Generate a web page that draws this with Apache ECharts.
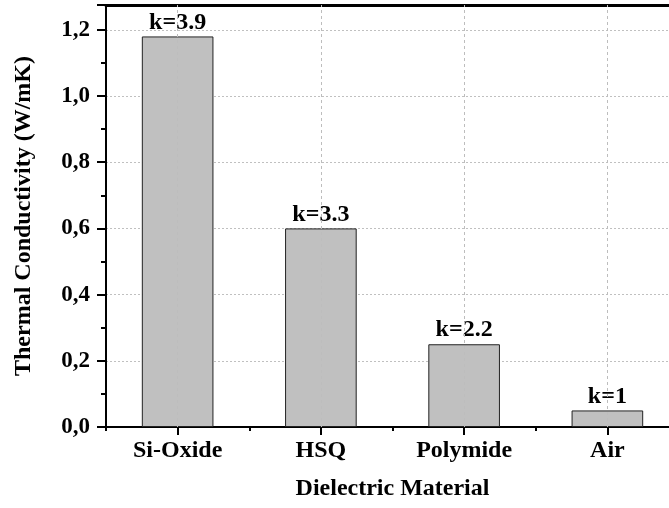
<!DOCTYPE html>
<html>
<head>
<meta charset="utf-8">
<script src="https://cdn.jsdelivr.net/npm/echarts@6/dist/echarts.min.js"></script>
<style>
  html, body { margin: 0; padding: 0; background: #fff; }
  #chart { width: 669px; height: 508px; }
</style>
</head>
<body>
<div id="chart"></div>
<script>
// Dielectric materials and their thermal conductivity (W/mK)
const materials = ['Si-Oxide', 'HSQ', 'Polymide', 'Air'];
const conductivity = [1.18, 0.6, 0.25, 0.05];
// Dielectric constant of each material, printed above its bar
const kValues = ['3.9', '3.3', '2.2', '1'];

const FONT = 'Liberation Serif, Times New Roman, serif';
const textStyle = { fontFamily: FONT, fontWeight: 'bold', fontSize: 24, color: '#000' };

const chart = echarts.init(document.getElementById('chart'), null, { renderer: 'canvas' });

chart.setOption({
  animation: false,
  backgroundColor: '#fff',
  grid: {
    left: 106, top: 5, right: -10, bottom: 81,
    show: false,
    outerBoundsMode: 'none'
  },
  xAxis: [
    {
      type: 'category',
      data: materials,
      position: 'bottom',
      name: 'Dielectric Material',
      nameLocation: 'middle',
      nameGap: 50,
      nameTextStyle: textStyle,
      axisLine: { show: true, lineStyle: { color: '#000', width: 2 } },
      axisTick: { show: true, alignWithLabel: true, length: 8, lineStyle: { color: '#000', width: 2 } },
      axisLabel: Object.assign({ margin: 12 }, textStyle),
      splitLine: { show: false }
    },
    {
      // short ticks on the category boundaries
      type: 'category',
      data: materials,
      position: 'bottom',
      axisLine: { show: false },
      axisTick: { show: true, length: 4, lineStyle: { color: '#000', width: 2 } },
      axisLabel: { show: false },
      splitLine: { show: false }
    },
    {
      // frame line along the top of the plot
      type: 'category',
      data: materials,
      position: 'top',
      axisLine: { show: true, lineStyle: { color: '#000', width: 3 } },
      axisTick: { show: false },
      axisLabel: { show: false },
      splitLine: { show: false }
    }
  ],
  yAxis: {
    type: 'value',
    min: 0,
    max: 1.275,
    interval: 0.2,
    name: 'Thermal Conductivity (W/mK)',
    nameLocation: 'middle',
    nameGap: 70,
    nameTextStyle: textStyle,
    axisLine: { show: true, lineStyle: { color: '#000', width: 2 } },
    axisTick: { show: true, length: 9, lineStyle: { color: '#000', width: 2 } },
    minorTick: { show: true, splitNumber: 2, length: 5, lineStyle: { color: '#000', width: 2 } },
    axisLabel: Object.assign({
      margin: 16,
      showMaxLabel: false,
      formatter: v => v.toFixed(1).replace('.', ',')
    }, textStyle, { fontSize: 23 }),
    splitLine: { show: true, showMinLine: false, showMaxLine: false, lineStyle: { color: '#c0c0c0', type: [2, 2], width: 1 } }
  },
  series: [
    {
      // vertical guide lines through each category centre, drawn first so the bars cover them
      type: 'line',
      xAxisIndex: 0,
      data: [],
      silent: true,
      markLine: {
        silent: true,
        symbol: ['none', 'none'],
        label: { show: false },
        animation: false,
        lineStyle: { color: '#bdbdbd', type: [3, 3], width: 1 },
        data: materials.map(m => ({ xAxis: m }))
      }
    },
    {
      type: 'bar',
      xAxisIndex: 0,
      data: conductivity,
      barWidth: '50%',
      z: 3,
      itemStyle: { color: '#c0c0c0', borderColor: '#222', borderWidth: 1 },
      label: Object.assign({
        show: true,
        position: 'top',
        distance: 2,
        formatter: p => 'k=' + kValues[p.dataIndex]
      }, textStyle)
    }
  ]
});
</script>
</body>
</html>
